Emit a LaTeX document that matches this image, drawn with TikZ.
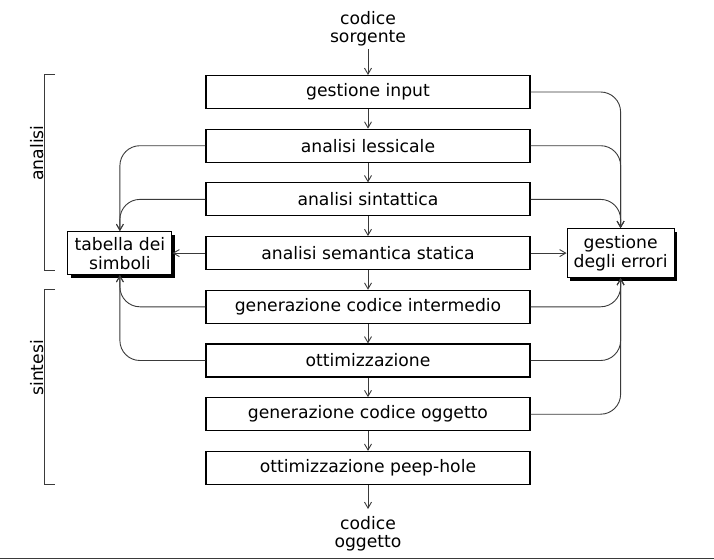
\documentclass[tikz,border=0pt]{standalone}
\usepackage{fontspec}
\setmainfont{DejaVu Sans}
\usepackage{tikz}
\usetikzlibrary{arrows.meta,positioning,calc,shadows}
\definecolor{cLine}{HTML}{3A3A3A}
\tikzset{
  >={Straight Barb[length=6pt,width=7pt]},
  fase/.style  ={draw=black,line width=1.1pt,minimum width=324pt,minimum height=33pt,
                 inner sep=0pt,font=\fontsize{17.2}{19}\selectfont},
  tab/.style   ={draw=black,fill=white,line width=1.1pt,align=center,inner sep=5pt,
                 font=\fontsize{17.2}{19}\selectfont,
                 drop shadow={shadow xshift=3pt,shadow yshift=-3pt,fill=black,opacity=1}},
  testo/.style ={align=center,inner sep=1pt,font=\fontsize{17.2}{18}\selectfont},
  fr/.style    ={->,line width=0.9pt,cLine},
  curva/.style ={fr,rounded corners=20pt},
  graffa/.style={line width=1pt,cLine},
}

\begin{document}
\begin{tikzpicture}[node distance=19.6pt]
\useasboundingbox (0,0) rectangle (714pt,-559pt);
% fasi del compilatore
\node[fase] (inp) at (368pt,-92pt) {gestione input};
\node[fase,below=of inp]   (less)  {analisi lessicale};
\node[fase,below=of less]  (sint)  {analisi sintattica};
\node[fase,below=of sint]  (sem)   {analisi semantica statica};
\node[fase,below=of sem]   (inter) {generazione codice intermedio};
\node[fase,below=of inter] (ottim) {ottimizzazione};
\node[fase,below=of ottim] (ogg)   {generazione codice oggetto};
\node[fase,below=of ogg]   (peep)  {ottimizzazione peep-hole};

% ingresso e uscita
\node[testo,inner ysep=3pt,above=26pt of inp] (src) {codice\\sorgente};
\node[testo,inner ysep=7pt,below=24pt of peep] (obj) {codice\\oggetto};

% tabelle laterali
\node[tab,left=33pt of sem,minimum width=104pt,minimum height=43pt] (simb) {tabella dei\\simboli};
\node[tab,right=36pt of sem,minimum width=107pt,minimum height=49pt] (err) {gestione\\degli errori};

\foreach \a/\b in {src/inp,inp/less,less/sint,sint/sem,sem/inter,inter/ottim,ottim/ogg,ogg/peep,peep/obj}
  \draw[fr] (\a) -- (\b);

% verso la tabella dei simboli
\draw[curva] (less.west)  -| (simb.north);
\draw[curva] (sint.west)  -| (simb.north);
\draw[fr]    (sem.west)   -- (simb.east);
\draw[curva] (inter.west) -| (simb.south);
\draw[curva] (ottim.west) -| (simb.south);

% verso la gestione degli errori
\draw[curva] (inp.east)   -| (err.north);
\draw[curva] (less.east)  -| (err.north);
\draw[curva] (sint.east)  -| (err.north);
\draw[fr]    (sem.east)   -- (err.west);
\draw[curva] (inter.east) -| (err.south);
\draw[curva] (ottim.east) -| (err.south);
\draw[curva] (ogg.east)   -| (err.south);

% parentesi
\coordinate (bx) at (44pt,0);
\coordinate (bt) at (55pt,0);
\draw[graffa] (bt |- inp.north) -- (bx |- inp.north) -- (bx |- sem.south) -- (bt |- sem.south);
\draw[graffa] (bt |- inter.north) -- (bx |- inter.north) -- (bx |- peep.south) -- (bt |- peep.south);
\node[testo,rotate=90,anchor=base] (an) at ($(bx |- inp.north)!.4!(bx |- sem.south)+(-1pt,0)$) {analisi};
\node[testo,rotate=90,anchor=base] (si) at ($(bx |- inter.north)!.4!(bx |- peep.south)+(-1pt,0)$) {sintesi};

\draw[line width=1.5pt,cLine] (0,-558.5pt) -- (714pt,-558.5pt);
\end{tikzpicture}
\end{document}
